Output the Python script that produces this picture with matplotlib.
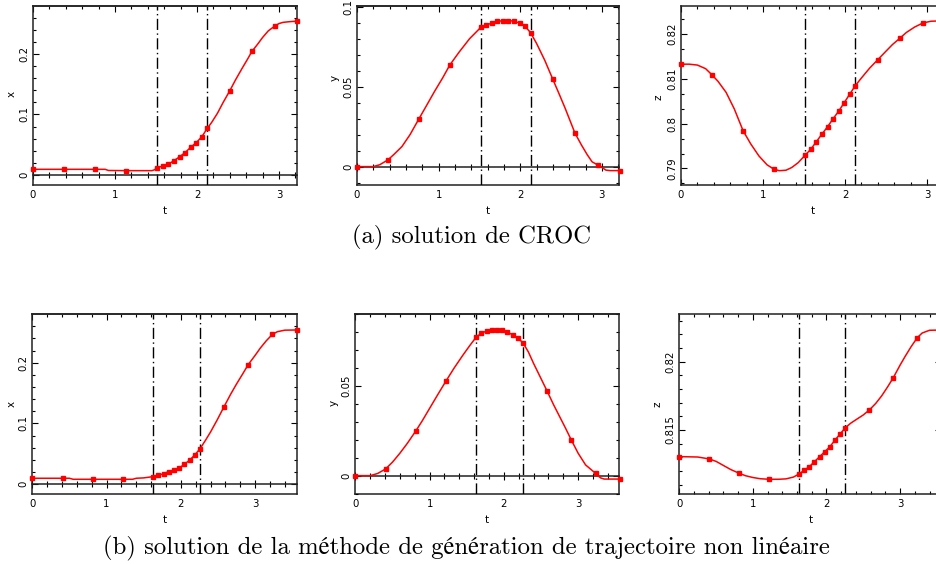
import matplotlib
matplotlib.use("Agg")
import matplotlib.pyplot as plt
from matplotlib.ticker import MultipleLocator, FuncFormatter, NullLocator, FixedLocator

# ---------------- data ----------------
# (a) CROC solution -- marker samples
t_mark_a = [0.0, 0.379, 0.758, 1.137, 1.516, 1.584, 1.652, 1.72, 1.787, 1.855,
            1.923, 1.991, 2.058, 2.126, 2.40, 2.67, 2.95, 3.22]
x_mark_a = [0.0094, 0.0094, 0.0094, 0.0072, 0.012, 0.0149, 0.018, 0.0237, 0.030, 0.037,
            0.0457, 0.0534, 0.063, 0.077, 0.139, 0.204, 0.246, 0.254]
y_mark_a = [0.0, 0.0042, 0.0298, 0.0635, 0.0870, 0.0885, 0.0897, 0.0908, 0.0912, 0.0912,
            0.0910, 0.0897, 0.0877, 0.0838, 0.0545, 0.0210, 0.0010, -0.0025]
z_mark_a = [0.8133, 0.8109, 0.7984, 0.7898, 0.7930, 0.7943, 0.7960, 0.7977, 0.7993, 0.8011,
            0.8028, 0.8047, 0.8066, 0.8085, 0.8143, 0.8191, 0.8225, 0.8230]
# (a) extra curve samples between markers
t_x_extra_a = [0.88, 0.92, 1.45, 1.48, 2.18, 2.25, 2.32, 2.47, 2.55, 2.62, 2.74, 2.80,
               2.87, 3.0, 3.05, 3.12]
x_extra_a = [0.0094, 0.0075, 0.0072, 0.0085, 0.087, 0.102, 0.120, 0.157, 0.176, 0.192,
             0.216, 0.227, 0.238, 0.250, 0.252, 0.253]
t_y_extra_a = [0.2, 0.28, 0.45, 0.55, 0.65, 0.85, 0.95, 1.05, 1.25, 1.38, 2.2, 2.3,
               2.48, 2.55, 2.75, 2.82, 2.88, 3.0, 3.05, 3.1]
y_extra_a = [0.0, 0.0012, 0.0075, 0.0125, 0.020, 0.038, 0.047, 0.0555, 0.0715, 0.080,
             0.077, 0.0665, 0.045, 0.0365, 0.0135, 0.0075, 0.003, -0.0005, -0.0022, -0.0025]
t_z_extra_a = [0.1, 0.2, 0.3, 0.45, 0.55, 0.65, 0.85, 0.95, 1.05, 1.2, 1.28, 1.35, 1.43,
               2.2, 2.3, 2.5, 2.58, 2.75, 2.85, 3.05]
z_extra_a = [0.8133, 0.8131, 0.8123, 0.8095, 0.8070, 0.8033, 0.7955, 0.7928, 0.7908, 0.7895,
             0.7896, 0.7902, 0.7913, 0.8102, 0.8124, 0.8162, 0.8177, 0.8204, 0.8216, 0.8229]
vlines_a = [1.516, 2.126]

# (b) non-linear trajectory generation -- marker samples
t_mark_b = [0.0, 0.407, 0.814, 1.221, 1.628, 1.698, 1.768, 1.837, 1.907, 1.977,
            2.047, 2.117, 2.186, 2.256, 2.582, 2.908, 3.234, 3.56]
x_mark_b = [0.0099, 0.0099, 0.0082, 0.0082, 0.0126, 0.0148, 0.0175, 0.0208, 0.023, 0.0263,
            0.0329, 0.0395, 0.048, 0.058, 0.1277, 0.197, 0.2467, 0.2538]
y_mark_b = [0.0, 0.0037, 0.0249, 0.0528, 0.0773, 0.0794, 0.0807, 0.0814, 0.0815, 0.0811,
            0.0800, 0.0786, 0.0767, 0.0742, 0.0472, 0.0199, 0.0013, -0.0019]
z_mark_b = [0.81305, 0.81288, 0.81183, 0.81139, 0.81178, 0.81205, 0.81232, 0.81268, 0.81305,
            0.81341, 0.81378, 0.81427, 0.81471, 0.81517, 0.81646, 0.81883, 0.82176, 0.82232]
t_x_extra_b = [0.5, 0.55, 1.35, 1.40, 1.5, 2.33, 2.40, 2.49, 2.67, 2.75, 2.83, 3.0, 3.07,
               3.15, 3.3, 3.4]
x_extra_b = [0.0099, 0.0082, 0.0082, 0.0099, 0.0105, 0.072, 0.086, 0.106, 0.148, 0.165,
             0.181, 0.212, 0.224, 0.236, 0.251, 0.2535]
t_y_extra_b = [0.2, 0.3, 0.5, 0.6, 0.7, 0.9, 1.0, 1.1, 1.33, 1.45, 1.54, 2.33, 2.40, 2.49,
               2.67, 2.75, 2.83, 3.0, 3.1, 3.3, 3.35]
y_extra_b = [0.0, 0.0012, 0.0075, 0.0125, 0.0180, 0.0305, 0.0375, 0.0445, 0.060, 0.0673,
             0.0725, 0.0690, 0.0626, 0.0550, 0.0395, 0.0330, 0.0265, 0.0125, 0.0060,
             -0.0012, -0.0019]
t_z_extra_b = [0.25, 0.5, 0.6, 0.7, 0.9, 1.0, 1.1, 1.35, 1.45, 1.55, 2.33, 2.42, 2.5, 2.67,
               2.75, 2.83, 3.0, 3.07, 3.15, 3.3, 3.4]
z_extra_b = [0.81302, 0.81270, 0.81240, 0.81210, 0.81165, 0.81152, 0.81143, 0.81139,
             0.81142, 0.81155, 0.81550, 0.81582, 0.81610, 0.81695, 0.81750, 0.81815,
             0.81975, 0.82040, 0.82110, 0.82210, 0.82230]
vlines_b = [1.628, 2.256]

x_ticks = [0, 1, 2, 3]
caption_a = "(a) solution de CROC"
caption_b = "(b) solution de la méthode de génération de trajectoire non linéaire"

# ---------------- figure ----------------
W, H = 936, 564
fig = plt.figure(figsize=(W / 100, H / 100), dpi=100)

RED = "#ff0000"
EDGE = "#222222"
TICK_FS = 7.3
LAB_FS = 7.5


def px_axes(left, top, right, bottom):
    return fig.add_axes([left / W, 1 - bottom / H, (right - left) / W, (bottom - top) / H])


def fmt(v, p):
    return "%g" % round(v, 6)


def panel(ax, t_mark, v_mark, t_extra, v_extra, vl, xmax, ylim, ymaj, ymin,
          ylabel, ylab_pos, zero_axis):
    pts = sorted(zip(list(t_mark) + list(t_extra), list(v_mark) + list(v_extra)))
    ax.plot([p[0] for p in pts], [p[1] for p in pts], color=RED, lw=1.1, zorder=3)
    ax.plot(t_mark, v_mark, ls="none", marker="s", ms=2.5, color=RED, zorder=4,
            clip_on=False)
    for v in vl:
        ax.axvline(v, color="black", lw=1.0, ls=(0, (8, 2.5, 1, 2.5)), zorder=2)
    ax.set_xlim(0, xmax)
    ax.set_ylim(*ylim)
    for s in ax.spines.values():
        s.set_linewidth(1.1)
        s.set_color(EDGE)

    ax.yaxis.set_major_locator(MultipleLocator(ymaj))
    ax.yaxis.set_minor_locator(MultipleLocator(ymin))
    ax.yaxis.set_major_formatter(FuncFormatter(fmt))
    ax.tick_params(axis="y", which="both", direction="in", left=True, right=True,
                   labelsize=TICK_FS, pad=2.5, labelrotation=90)
    ax.tick_params(axis="y", which="major", length=4, width=0.8)
    ax.tick_params(axis="y", which="minor", length=2.5, width=0.8)
    for lab in ax.get_yticklabels():
        lab.set_va("center")

    ax.xaxis.set_major_locator(FixedLocator(x_ticks))
    ax.xaxis.set_minor_locator(MultipleLocator(0.2))
    ax.xaxis.set_major_formatter(FuncFormatter(fmt))

    if zero_axis:
        ax.spines["bottom"].set_position(("data", 0))
        ax.tick_params(axis="x", which="both", direction="inout", bottom=True, top=False,
                       labelbottom=False, width=0.8)
        ax.tick_params(axis="x", which="major", length=6)
        ax.tick_params(axis="x", which="minor", length=4)
        top = ax.secondary_xaxis("top")
        top.xaxis.set_major_locator(FixedLocator(x_ticks))
        top.xaxis.set_minor_locator(MultipleLocator(0.2))
        top.tick_params(axis="x", which="both", direction="in", labeltop=False, width=0.8)
        top.tick_params(axis="x", which="major", length=4)
        top.tick_params(axis="x", which="minor", length=2.5)
        top.spines["top"].set_linewidth(1.1)
        top.spines["top"].set_color(EDGE)
        bot = ax.secondary_xaxis("bottom")
        bot.xaxis.set_major_locator(FixedLocator(x_ticks))
        bot.xaxis.set_minor_locator(NullLocator())
        bot.xaxis.set_major_formatter(FuncFormatter(fmt))
        bot.tick_params(axis="x", which="both", length=0, labelsize=TICK_FS, pad=3.5)
        bot.spines["bottom"].set_linewidth(1.1)
        bot.spines["bottom"].set_color(EDGE)
    else:
        ax.tick_params(axis="x", which="both", direction="in", bottom=True, top=True,
                       labelsize=TICK_FS, pad=3.5, width=0.8)
        ax.tick_params(axis="x", which="major", length=4)
        ax.tick_params(axis="x", which="minor", length=2.5)

    ax.text(0.5, -25.7 / 179, "t", transform=ax.transAxes, ha="center", va="center",
            fontsize=LAB_FS)
    ax.text(ylab_pos[0], ylab_pos[1], ylabel, transform=ax.transAxes, ha="center",
            va="center", fontsize=LAB_FS, rotation=90)


# top row
ax1 = px_axes(33, 6, 297, 185)
panel(ax1, t_mark_a, x_mark_a, t_x_extra_a, x_extra_a, vlines_a, 3.22,
      (-0.0165, 0.279), 0.1, 0.02, "x", (-21.3 / 264, 0.51), True)
ax2 = px_axes(357, 6, 619, 185)
panel(ax2, t_mark_a, y_mark_a, t_y_extra_a, y_extra_a, vlines_a, 3.21,
      (-0.0115, 0.1004), 0.05, 0.01, "y", (-22.3 / 262, 0.60), True)
ax3 = px_axes(681, 6, 945, 185)
panel(ax3, t_mark_a, z_mark_a, t_z_extra_a, z_extra_a, vlines_a, 3.22,
      (0.7863, 0.8263), 0.01, 0.01 / 3, "z", (-23 / 264, 0.49), False)

# bottom row
ax4 = px_axes(32.3, 314.3, 296.7, 494)
panel(ax4, t_mark_b, x_mark_b, t_x_extra_b, x_extra_b, vlines_b, 3.56,
      (-0.016, 0.2796), 0.1, 0.02, "x", (-20.6 / 264, 0.50), True)
ax5 = px_axes(355.3, 314.3, 619, 494.3)
panel(ax5, t_mark_b, y_mark_b, t_y_extra_b, y_extra_b, vlines_b, 3.55,
      (-0.0104, 0.090), 0.05, 0.01, "y", (-21.6 / 264, 0.51), True)
ax6 = px_axes(679.3, 314.3, 941.3, 494.3)
panel(ax6, t_mark_b, z_mark_b, t_z_extra_b, z_extra_b, vlines_b, 3.56,
      (0.81029, 0.82347), 0.005, 0.001, "z", (-22 / 262, 0.50), False)

cap_font = ["cmr10", "STIXGeneral", "DejaVu Serif"]
fig.text(471.5 / W, 1 - 237 / H, caption_a, ha="center", va="center",
         fontsize=17.8, family=cap_font)
fig.text(466 / W, 1 - 548 / H, caption_b, ha="center", va="center",
         fontsize=17.8, family=cap_font)

fig.savefig("out.png", dpi=100)
